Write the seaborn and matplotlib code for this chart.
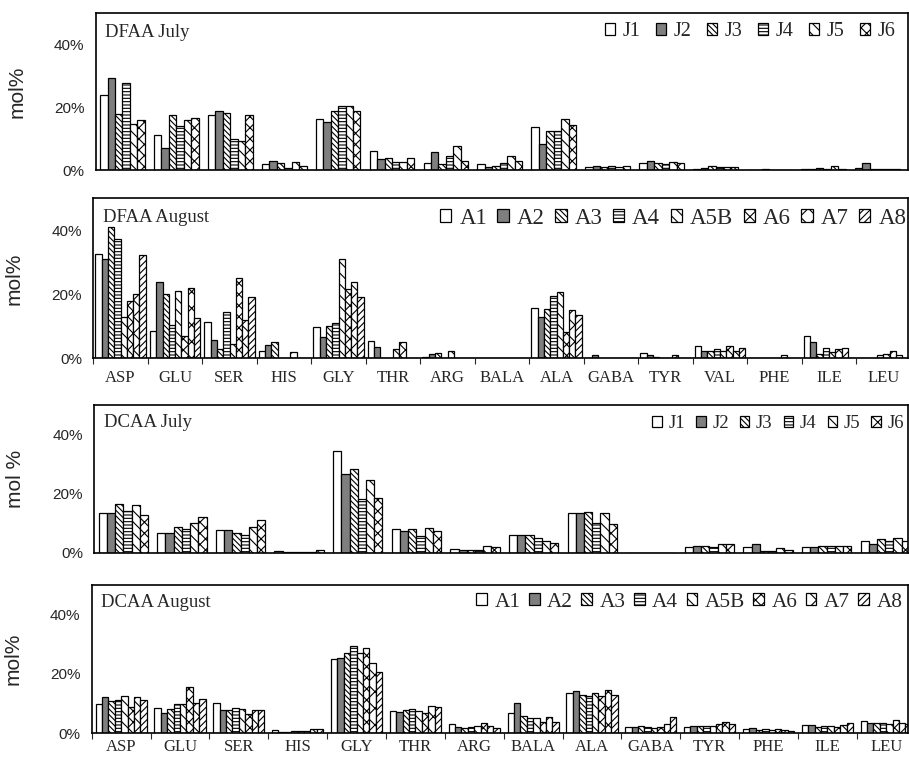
import numpy as np
import pandas as pd
import matplotlib
matplotlib.use("Agg")
import matplotlib.pyplot as plt
import seaborn as sns
from matplotlib.ticker import FuncFormatter, FixedLocator

# amino acids on the x axis
aa_free = ["ASP", "GLU", "SER", "HIS", "GLY", "THR", "ARG", "BALA", "ALA",
           "GABA", "TYR", "VAL", "PHE", "ILE", "LEU"]
aa_comb = ["ASP", "GLU", "SER", "HIS", "GLY", "THR", "ARG", "BALA", "ALA",
           "GABA", "TYR", "PHE", "ILE", "LEU"]

july_ids = ["J1", "J2", "J3", "J4", "J5", "J6"]
aug_ids = ["A1", "A2", "A3", "A4", "A5B", "A6", "A7", "A8"]

# DFAA July, mol%
dfaa_july = {
    "J1": [23.8, 11.2, 17.6, 1.8, 16.3, 6.1, 2.1, 1.8, 13.7, 1.0, 2.3, 0.4, 0.0, 0.3, 0.5],
    "J2": [29.5, 7.1, 18.9, 2.9, 15.3, 3.5, 5.8, 1.1, 8.2, 1.2, 3.0, 0.5, 0.0, 0.2, 2.1],
    "J3": [17.8, 17.4, 18.1, 2.1, 18.9, 3.7, 1.8, 1.4, 12.3, 0.8, 2.1, 1.3, 0.2, 0.5, 0.2],
    "J4": [27.7, 13.9, 9.8, 0.5, 20.5, 2.6, 4.4, 2.3, 12.3, 1.3, 1.9, 0.8, 0.0, 0.3, 0.2],
    "J5": [14.6, 15.8, 9.4, 2.6, 20.3, 2.5, 7.5, 4.5, 16.2, 0.8, 2.7, 0.8, 0.0, 1.4, 0.2],
    "J6": [15.8, 16.7, 17.4, 1.3, 18.9, 3.8, 2.9, 2.9, 14.2, 1.2, 2.3, 0.8, 0.0, 0.3, 0.2],
}

# DFAA August
dfaa_aug = {
    "A1": [32.7, 8.6, 11.4, 2.2, 9.8, 5.6, 0.6, 0.0, 15.9, 0.0, 1.6, 3.9, 0.0, 7.0, 0.0],
    "A2": [31.1, 23.8, 5.7, 4.2, 6.7, 3.6, 1.4, 0.0, 13.0, 1.0, 1.2, 2.4, 0.0, 5.3, 0.0],
    "A3": [40.9, 20.0, 3.1, 5.3, 10.2, 0.0, 1.8, 0.0, 15.5, 0.0, 0.5, 2.2, 0.0, 1.5, 0.0],
    "A4": [37.3, 10.4, 14.6, 0.0, 11.0, 0.0, 0.0, 0.0, 19.5, 0.0, 0.0, 2.9, 0.0, 3.2, 1.0],
    "A5B": [13.0, 21.2, 4.5, 0.0, 30.9, 3.0, 2.2, 0.0, 20.8, 0.0, 0.0, 2.2, 0.0, 2.0, 1.5],
    "A6": [17.9, 7.0, 25.0, 2.0, 21.8, 5.3, 0.0, 0.0, 8.4, 0.0, 1.2, 3.9, 1.0, 3.0, 2.3],
    "A7": [20.0, 21.9, 12.0, 0.0, 23.8, 0.0, 0.0, 0.0, 15.0, 0.0, 0.0, 2.4, 0.0, 3.2, 1.2],
    "A8": [32.4, 12.7, 19.3, 0.0, 19.3, 0.0, 0.0, 0.0, 13.6, 0.0, 0.0, 3.2, 0.0, 0.0, 0.0],
}

# DCAA July
dcaa_july = {
    "J1": [13.6, 6.6, 7.8, 0.7, 34.5, 8.2, 1.3, 6.1, 13.4, 0.0, 2.1, 2.1, 2.1, 3.9],
    "J2": [13.6, 6.6, 7.8, 0.3, 26.7, 7.6, 1.0, 6.1, 13.6, 0.0, 2.2, 3.0, 2.1, 3.2],
    "J3": [16.6, 8.9, 6.7, 0.3, 28.5, 8.0, 1.0, 6.1, 13.9, 0.0, 2.5, 0.8, 2.5, 4.7],
    "J4": [14.2, 8.0, 6.2, 0.5, 18.4, 5.8, 1.0, 4.9, 10.3, 0.0, 1.9, 0.8, 2.2, 3.9],
    "J5": [16.2, 10.1, 8.7, 0.5, 24.6, 8.4, 2.2, 3.9, 13.4, 0.0, 3.0, 1.7, 2.5, 4.9],
    "J6": [12.7, 12.3, 11.1, 1.1, 18.7, 7.4, 2.0, 3.4, 9.9, 0.0, 3.2, 1.1, 2.2, 4.1],
}

# DCAA August
dcaa_aug = {
    "A1": [9.9, 8.4, 10.3, 1.1, 25.1, 7.5, 3.0, 6.7, 13.7, 2.0, 2.2, 1.3, 2.8, 4.3],
    "A2": [12.4, 6.7, 8.0, 0.6, 25.3, 7.3, 2.0, 10.3, 14.4, 2.2, 2.5, 1.7, 2.8, 3.6],
    "A3": [11.0, 8.1, 7.9, 0.6, 27.0, 7.9, 1.8, 5.8, 12.9, 2.5, 2.6, 1.1, 2.2, 3.4],
    "A4": [11.2, 9.9, 8.4, 0.9, 29.4, 8.1, 2.0, 5.3, 12.6, 2.0, 2.6, 1.3, 2.5, 3.6],
    "A5B": [12.6, 9.9, 8.2, 0.9, 27.2, 7.5, 2.3, 5.1, 13.5, 1.9, 2.5, 1.1, 2.5, 3.1],
    "A6": [9.0, 15.5, 6.6, 0.8, 28.7, 7.0, 3.5, 3.9, 12.6, 2.2, 3.1, 1.5, 2.2, 4.5],
    "A7": [12.1, 10.1, 7.8, 1.3, 23.8, 9.2, 2.3, 5.6, 14.6, 3.1, 3.7, 1.1, 2.7, 3.6],
    "A8": [11.2, 11.7, 7.8, 1.3, 20.8, 8.8, 1.7, 3.9, 12.9, 5.4, 3.1, 0.8, 3.4, 3.0],
}

# fill colour and hatch per sample position
fills = ["white", "#7f7f7f", "white", "white", "white", "white", "white", "white"]
hatches = ["", "", "\\\\\\\\\\\\", "-----", "\\\\\\", "xxx", "xx", "/////"]

sns.set_style("white")
plt.rcParams["font.family"] = ["Liberation Serif", "DejaVu Serif"]
plt.rcParams["hatch.linewidth"] = 0.8
plt.rcParams["hatch.color"] = "black"

W, H = 909, 759
fig = plt.figure(figsize=(W / 100, H / 100), dpi=100)


def make_ax(left, top, bottom, right=908):
    return fig.add_axes([left / W, 1 - bottom / H, (right - left) / W, (bottom - top) / H])


def draw_panel(ax, aa, ids, vals, width, xmax, title, ylab, leg_fs, leg_kw, xpad=None):
    rows = []
    for sid in ids:
        for a, v in zip(aa, vals[sid]):
            rows.append((a, sid, v))
    df = pd.DataFrame(rows, columns=["aa", "sample", "molpct"])
    sns.barplot(data=df, x="aa", y="molpct", hue="sample", order=aa, hue_order=ids,
                width=width, gap=0, errorbar=None, legend=False, saturation=1,
                edgecolor="black", linewidth=0.8, ax=ax)
    for i, cont in enumerate(ax.containers):
        for p in cont.patches:
            p.set_facecolor(fills[i])
            p.set_hatch(hatches[i])
            p.set_edgecolor("black")
            p.set_linewidth(0.9)

    ax.set_xlim(-0.5, xmax)
    ax.set_ylim(0, 50)
    ax.set_yticks([0, 20, 40])
    ax.yaxis.set_major_formatter(FuncFormatter(lambda v, _: f"{v:.0f}%"))
    ax.tick_params(axis="y", length=0, pad=8, labelsize=11)
    for lab in ax.get_yticklabels():
        lab.set_family(["Liberation Sans", "DejaVu Sans"])

    n = len(aa)
    if xpad is not None:
        ax.xaxis.set_major_locator(FixedLocator(np.arange(n) - 0.5))
        ax.xaxis.set_minor_locator(FixedLocator(np.arange(n)))
        ax.set_xticklabels([], minor=False)
        ax.set_xticklabels(aa, minor=True, fontsize=12)
        ax.tick_params(axis="x", which="major", length=4, width=0.8, direction="out", bottom=True)
        ax.tick_params(axis="x", which="minor", length=0, pad=xpad)
    else:
        ax.set_xticks([])
    ax.set_xlabel("")
    ax.set_ylabel(ylab, fontsize=15, family=["Liberation Sans", "DejaVu Sans"])
    ax.yaxis.set_label_coords(-0.085, 0.5)

    for sp in ax.spines.values():
        sp.set_visible(True)
        sp.set_color("black")
        sp.set_linewidth(1.2)

    ax.text(0.012, 0.88, title, transform=ax.transAxes, fontsize=13.5, va="center", ha="left")
    ax.legend(ax.containers, ids, frameon=False, ncol=len(ids), fontsize=leg_fs,
              loc="center right", handlelength=0.5, handleheight=0.5, borderaxespad=0,
              borderpad=0, **leg_kw)


ax1 = make_ax(95.5, 13.3, 170)
draw_panel(ax1, aa_free, july_ids, dfaa_july, 0.83, 14.57, "DFAA July", "mol%", 14.5,
           dict(bbox_to_anchor=(0.985, 0.883), handletextpad=0.4, columnspacing=0.75))

ax2 = make_ax(93.3, 198.3, 358.5)
draw_panel(ax2, aa_free, aug_ids, dfaa_aug, 0.92, 14.45, "DFAA August", "mol%", 16.5,
           dict(bbox_to_anchor=(0.998, 0.875), handletextpad=0.35, columnspacing=0.45), xpad=8)

ax3 = make_ax(94, 405, 553)
draw_panel(ax3, aa_comb, july_ids, dcaa_july, 0.84, 13.39, "DCAA July", "mol %", 13.5,
           dict(bbox_to_anchor=(0.995, 0.876), handletextpad=0.35, columnspacing=0.6))

ax4 = make_ax(91.7, 585, 733.3)
draw_panel(ax4, aa_comb, aug_ids, dcaa_aug, 0.87, 13.37, "DCAA August", "mol%", 15.3,
           dict(bbox_to_anchor=(0.993, 0.884), handletextpad=0.35, columnspacing=0.4), xpad=4)

fig.savefig("out.png", dpi=100)
